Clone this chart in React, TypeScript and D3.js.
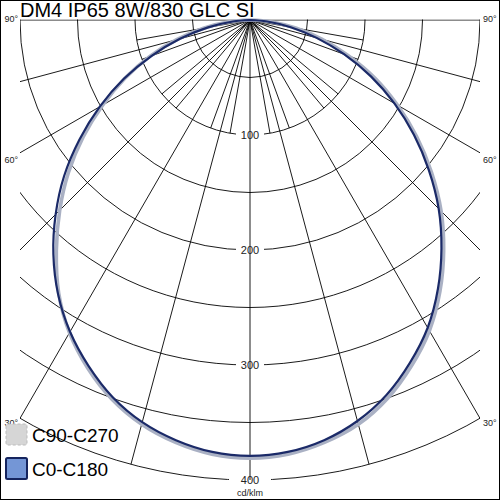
import React from "react";
import * as d3 from "d3";

// gamma angles (deg from nadir), values in cd/klm
const gammas = [0, 5, 10, 15, 20, 25, 30, 35, 40, 45, 50, 55, 60, 65, 70, 75, 80, 85, 90];
const c0 = [379, 377, 371, 361, 347, 329, 309, 285, 259, 232, 203, 174, 145, 116, 87, 60, 36, 15, 0];
const c180 = [379, 377, 371, 362, 349, 332, 313, 291, 266, 239, 211, 181, 151, 121, 91, 63, 37, 15, 0];
const c90 = [381, 379, 373, 364, 350, 332, 312, 288, 262, 235, 206, 177, 148, 120, 91, 65, 41, 19, 0];
const c270 = [381, 379, 373, 364, 351, 334, 314, 290, 262, 234, 206, 177, 148, 120, 93, 66, 41, 18, 0];

const rings = [50, 100, 150, 200, 250, 300, 350, 400];
const ringLabels = [100, 200, 300, 400];
const majorAngles = [-90, -75, -60, -45, -30, -15, 0, 15, 30, 45, 60, 75, 90];
const minorAngles = [-80, -70, -50, -40, -20, -10, 10, 20, 40, 50, 70, 80];
const angleLabels = [90, 60, 30];

const title = "DM4 IP65 8W/830 GLC SI";
const unit = "cd/klm";
const legend = [
  { name: "C90-C270", fill: "#d6d6d6", stroke: "#bcbcbc", dash: "3,2", width: 1 },
  { name: "C0-C180", fill: "#7496d6", stroke: "#15245e", dash: null, width: 2 },
];

const font = "'Liberation Sans', Arial, sans-serif";

export default function App() {
  const cx = 250, cy = 20;
  const r = d3.scaleLinear().domain([0, 400]).range([0, 460]);
  const rad = (d: number) => (d * Math.PI) / 180;
  // position for a gamma angle, negative = left half
  const pt = (g: number, v: number) => [cx + r(v) * Math.sin(rad(g)), cy + r(v) * Math.cos(rad(g))];

  const line = d3.lineRadial<[number, number]>()
    .angle(d => d[0])
    .radius(d => r(d[1]))
    .curve(d3.curveCatmullRom);

  const curvePts = (left: number[], right: number[]) => {
    const pts: [number, number][] = [];
    for (let i = gammas.length - 1; i >= 0; i--) pts.push([Math.PI + rad(gammas[i]), left[i]]);
    for (let i = 1; i < gammas.length; i++) pts.push([Math.PI - rad(gammas[i]), right[i]]);
    return pts;
  };

  return (
    <svg width={500} height={500} style={{ position: "absolute", left: 0, top: 0, background: "#fff" }}
      fontFamily={font}>
      <defs>
        <clipPath id="plot">
          <rect x={20} y={19.5} width={460} height={462} />
        </clipPath>
      </defs>
      <rect x={0.5} y={0.5} width={499} height={499} fill="#fff" stroke="#000" />

      <g clipPath="url(#plot)">
        {rings.map(v => (
          <circle key={v} cx={cx} cy={cy} r={r(v)} fill="none" stroke="#000" strokeWidth={0.9} />
        ))}
        {ringLabels.map(v => (
          <rect key={"bg" + v} x={cx - (v === 400 ? 21 : 14)} y={cy + r(v) - 5} width={v === 400 ? 42 : 28} height={10} fill="#fff" />
        ))}
        {majorAngles.map(a => {
          const [x, y] = pt(a, 400);
          return <line key={"M" + a} x1={cx} y1={cy} x2={x} y2={y} stroke="#000" strokeWidth={0.9} />;
        })}
        {minorAngles.map(a => {
          const [x, y] = pt(a, 100);
          return <line key={"m" + a} x1={cx} y1={cy} x2={x} y2={y} stroke="#000" strokeWidth={0.9} />;
        })}
      </g>

      <g transform={`translate(${cx},${cy})`} fill="none">
        <path d={line(curvePts(c270, c90)) || ""} stroke="#aab1c4" strokeWidth={3.6} />
        <path d={line(curvePts(c180, c0)) || ""} stroke="#1b2a68" strokeWidth={2.2} />
      </g>

      {ringLabels.map(v => (
        <text key={"t" + v} x={cx} y={cy + r(v)} textAnchor="middle" dominantBaseline="central" fontSize={11} fill="#222">
          {v}
        </text>
      ))}
      <text x={cx} y={493} textAnchor="middle" dominantBaseline="central" fontSize={9} fill="#222">{unit}</text>

      {angleLabels.map(a => {
        const ang = rad(a);
        const dy = r(400) * Math.cos(ang);
        const dx = r(400) * Math.sin(ang);
        const yEnd = dx > 230 ? cy + 230 / Math.tan(ang) : cy + dy;
        const off = a === 90 ? -1 : a === 60 ? 7 : 5;
        return (
          <g key={"a" + a} fontSize={9} fill="#222">
            <text x={18} y={yEnd + off} textAnchor="end" dominantBaseline="central">{a}°</text>
            <text x={483} y={yEnd + off} dominantBaseline="central">{a}°</text>
          </g>
        );
      })}

      <text x={20} y={17} fontSize={20} fill="#000">{title}</text>

      {legend.map((d, i) => (
        <g key={d.name} transform={`translate(5,${423 + i * 34})`}>
          <rect x={1} y={1} width={21} height={21} rx={1.5} fill={d.fill} stroke={d.stroke}
            strokeWidth={d.width} strokeDasharray={d.dash || undefined} />
          <text x={27} y={19} fontSize={19} fill="#000">{d.name}</text>
        </g>
      ))}
    </svg>
  );
}
